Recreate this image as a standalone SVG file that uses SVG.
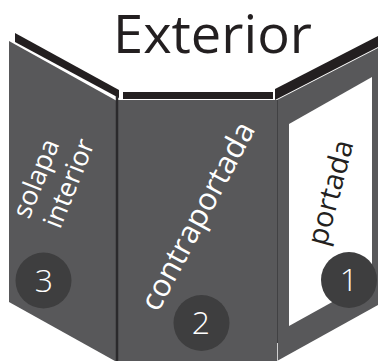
<svg xmlns="http://www.w3.org/2000/svg" width="378" height="361" viewBox="0 0 378 361">
  <style>
    .panel { fill: #58585a; }
    .band { fill: #231f20; }
    .badge { fill: #3e3e3f; }
    .num { font-family: "Open Sans", "Liberation Sans", sans-serif; font-size: 32px; font-weight: 300; fill: #ffffff; text-anchor: middle; }
    .lbl { font-family: "Open Sans", "Liberation Sans", sans-serif; font-weight: 400; fill: #ffffff; }
    .title { font-family: "Open Sans", "Liberation Sans", sans-serif; font-size: 53px; fill: #231f20; }
  </style>

  <rect width="378" height="361" fill="#ffffff"/>

  <text class="title" x="113" y="53" textLength="199" lengthAdjust="spacingAndGlyphs">Exterior</text>

  <!-- panel 3: inner flap -->
  <g id="panel-solapa">
    <polygon class="band" points="15,33 119,90 119,98 15,42"/>
    <polygon class="panel" points="9,41 117,101 117,361 115,361 9,302"/>
    <circle class="badge" cx="43.5" cy="280.5" r="28"/>
    <text class="num" x="44" y="292">3</text>
    <text class="lbl" font-size="27" transform="translate(29,220) rotate(-68)">solapa</text>
    <text class="lbl" font-size="27" transform="translate(60,230) rotate(-68)">interior</text>
  </g>

  <!-- panel 2: inside back cover -->
  <g id="panel-contraportada">
    <rect class="band" x="123" y="92" width="150" height="7"/>
    <rect class="panel" x="118" y="100" width="159" height="261"/>
    <circle class="badge" cx="201.5" cy="323" r="28"/>
    <text class="num" x="201" y="334">2</text>
    <text class="lbl" font-size="31" transform="translate(158,313) rotate(-62)">contraportada</text>
  </g>

  <!-- panel 1: front cover -->
  <g id="panel-portada">
    <polygon class="band" points="275,89 378,36 378,47 275,100"/>
    <polygon class="panel" points="277,100 378,48 378,305 277,361"/>
    <polygon fill="#ffffff" points="289,124 372,77 372,280 289,326"/>
    <circle class="badge" cx="349" cy="280" r="28"/>
    <text class="num" x="349" y="291">1</text>
    <text class="lbl" font-size="29" style="fill:#231f20" transform="translate(326,247) rotate(-75)">portada</text>
  </g>

  <!-- fold lines -->
  <g id="folds">
    <line x1="117" y1="96" x2="117" y2="361" stroke="#2b2a2c" stroke-width="2.5"/>
    <line x1="277.5" y1="100" x2="277.5" y2="343" stroke="#414143" stroke-width="1"/>
    <line x1="277.5" y1="343" x2="277.5" y2="361" stroke="#cfcfd0" stroke-width="1"/>
  </g>
</svg>
